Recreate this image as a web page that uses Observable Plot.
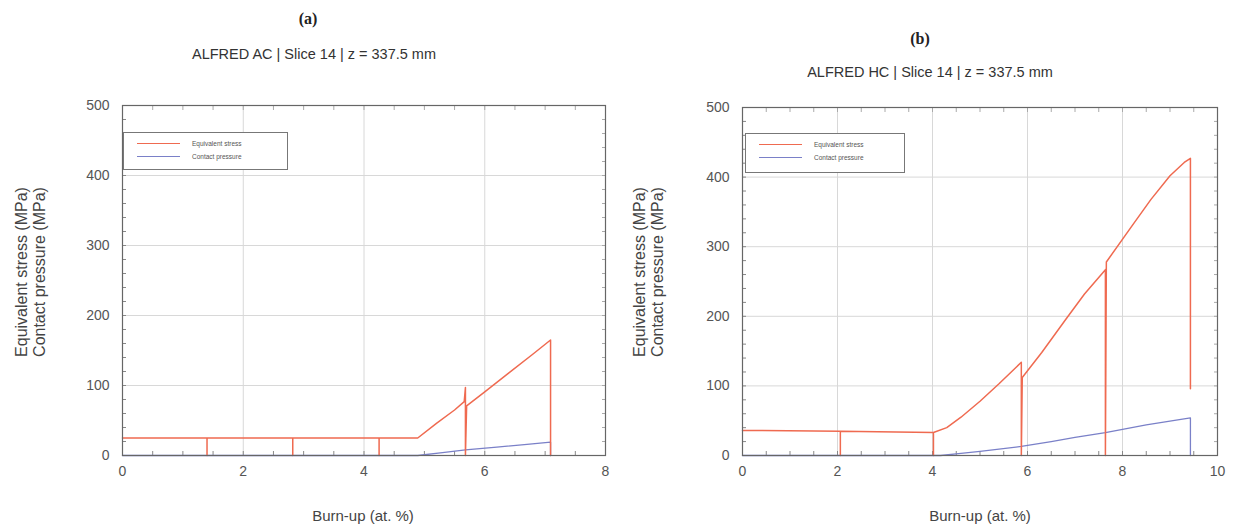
<!DOCTYPE html>
<html>
<head>
<meta charset="utf-8">
<script src="https://cdn.jsdelivr.net/npm/d3@7"></script>
<script src="https://cdn.jsdelivr.net/npm/@observablehq/plot@0.6"></script>
<style>
  html, body { margin:0; padding:0; background:#fff; }
  body { width:1239px; height:530px; position:relative; overflow:hidden; font-family:"Liberation Sans", Arial, sans-serif; color:#444; }
  .abs { position:absolute; }
  .panel-letter { font-family:"Liberation Serif", "DejaVu Serif", serif; font-weight:bold; font-size:16px; color:#222; transform:translateX(-50%); white-space:nowrap; }
  .panel-title { font-size:14.5px; color:#333; transform:translateX(-50%); white-space:nowrap; }
  .xlabel { font-size:15px; color:#444; transform:translateX(-50%); white-space:nowrap; }
  .ylabel { font-size:16px; color:#444; white-space:nowrap; transform:translate(-50%,-50%) rotate(-90deg); text-align:center; line-height:18px; }
  .legend { border:1px solid #777; background:#fff; box-sizing:border-box; }
  .legrow { position:absolute; left:0; display:flex; align-items:center; font-size:6.5px; color:#555; }
  .legrow span.sw { display:inline-block; width:43px; height:1.5px; margin-left:13px; margin-right:12px; }
</style>
</head>
<body>
<script>
// ---------- Data ----------
const seriesNames = ["Equivalent stress", "Contact pressure"];
const seriesColors = ["#ef6a50", "#7a80c8"];
const yTicks = [0, 100, 200, 300, 400, 500];

// (a) ALFRED AC
const acTitle = "ALFRED AC | Slice 14 | z = 337.5 mm";
const acXTicks = [0, 2, 4, 6, 8];
const acStressBurnup = [0, 1.40, 1.40, 1.40, 2.82, 2.82, 2.82, 4.25, 4.25, 4.25, 4.89, 5.2, 5.5, 5.66, 5.68, 5.68, 5.70, 6.0, 6.4, 6.8, 7.09, 7.09];
const acStress       = [25, 25, 0, 25, 25, 0, 25, 25, 0, 25, 25, 46, 65, 77, 97, 0, 71, 91, 118, 145, 165, 0];
const acPressureBurnup = [0, 4.89, 5.3, 5.68, 6.2, 6.7, 7.09, 7.09];
const acPressure       = [0, 0, 4, 8, 12, 16, 19, 0];

// (b) ALFRED HC
const hcTitle = "ALFRED HC | Slice 14 | z = 337.5 mm";
const hcXTicks = [0, 2, 4, 6, 8, 10];
const hcStressBurnup = [0, 2.06, 2.06, 2.06, 4.02, 4.02, 4.02, 4.3, 4.6, 5.0, 5.4, 5.87, 5.87, 5.89, 6.3, 6.8, 7.2, 7.64, 7.64, 7.66, 8.2, 8.6, 9.0, 9.3, 9.43, 9.43];
const hcStress       = [36, 35, 0, 35, 33, 0, 33, 40, 55, 78, 103, 134, 0, 112, 148, 195, 232, 267, 0, 278, 330, 368, 402, 421, 427, 96];
const hcPressureBurnup = [0, 4.17, 4.6, 5.0, 5.87, 6.5, 7.0, 7.64, 8.5, 9.43, 9.43];
const hcPressure       = [0, 0, 3, 6, 13, 20, 26, 33, 44, 54, 0];

// ---------- Helpers ----------
function rows(xs, ys) { return xs.map((x, i) => ({x, y: ys[i]})); }
function range(a, b, s) { const r = []; for (let v = a; v <= b + 1e-9; v += s) r.push(+v.toFixed(4)); return r; }

function makePanel(opts) {
  const {left, width, marginRight, marginTop, xmax, xTicks, stressX, stressY, pressX, pressY} = opts;
  const minorX = range(0, xmax, 0.5), minorY = range(0, 500, 20);
  const svg = Plot.plot({
    width, height: 440,
    marginLeft: 122, marginRight, marginTop, marginBottom: 75,
    x: {domain: [0, xmax]},
    y: {domain: [0, 500]},
    style: {fontFamily: "'Liberation Sans', Arial, sans-serif", fontSize: "14px", color: "#555", background: "transparent"},
    marks: [
      Plot.gridX(xTicks.filter(v => v > 0 && v < xmax), {stroke: "#d8d8d8", strokeOpacity: 1}),
      Plot.gridY(yTicks.filter(v => v > 0 && v < 500), {stroke: "#d8d8d8", strokeOpacity: 1}),
      Plot.axisX(minorX, {anchor: "bottom", tickSize: -4, text: null, label: null, stroke: "#888"}),
      Plot.axisX(minorX, {anchor: "top", tickSize: -4, text: null, label: null, stroke: "#aaa"}),
      Plot.axisY(minorY, {anchor: "left", tickSize: -4, text: null, label: null, stroke: "#888"}),
      Plot.axisY(minorY, {anchor: "right", tickSize: -4, text: null, label: null, stroke: "#aaa"}),
      Plot.axisX(xTicks, {tickSize: 0, tickPadding: 11, label: null, fill: "#555"}),
      Plot.axisY(yTicks, {tickSize: 0, tickPadding: 13, label: null, fill: "#555"}),
      Plot.line(rows(pressX, pressY), {x: "x", y: "y", stroke: seriesColors[1], strokeWidth: 1.3}),
      Plot.line(rows(stressX, stressY), {x: "x", y: "y", stroke: seriesColors[0], strokeWidth: 1.5}),
      Plot.frame({stroke: "#666", strokeWidth: 1.2})
    ]
  });
  svg.style.position = "absolute";
  svg.style.left = left + "px";
  svg.style.top = "90px";
  document.body.appendChild(svg);
}

function addText(cls, text, x, y) {
  const d = document.createElement("div");
  d.className = "abs " + cls;
  d.style.left = x + "px";
  d.style.top = y + "px";
  d.textContent = text;
  document.body.appendChild(d);
  return d;
}

function addYLabel(x, y) {
  const d = document.createElement("div");
  d.className = "abs ylabel";
  d.style.left = x + "px";
  d.style.top = y + "px";
  d.innerHTML = seriesNames[0] + " (MPa)<br>" + seriesNames[1] + " (MPa)";
  document.body.appendChild(d);
}

function addLegend(x, y, w, h) {
  const box = document.createElement("div");
  box.className = "abs legend";
  Object.assign(box.style, {left: x + "px", top: y + "px", width: w + "px", height: h + "px"});
  seriesNames.forEach((name, i) => {
    const r = document.createElement("div");
    r.className = "legrow";
    r.style.top = (7 + i * 13) + "px";
    const sw = document.createElement("span");
    sw.className = "sw";
    sw.style.background = seriesColors[i];
    r.appendChild(sw);
    r.appendChild(document.createTextNode(name));
    box.appendChild(r);
  });
  document.body.appendChild(box);
}

// ---------- Panel (a) ----------
makePanel({left: 0, width: 620, marginRight: 15, marginTop: 15, xmax: 8, xTicks: acXTicks,
  stressX: acStressBurnup, stressY: acStress, pressX: acPressureBurnup, pressY: acPressure});
addText("panel-letter", "(a)", 308, 10);
addText("panel-title", acTitle, 314, 46);
addText("xlabel", "Burn-up (at. %)", 363, 507);
addYLabel(31, 272);
addLegend(123, 132, 165, 38);

// ---------- Panel (b) ----------
makePanel({left: 620, width: 619, marginRight: 22, marginTop: 17, xmax: 10, xTicks: hcXTicks,
  stressX: hcStressBurnup, stressY: hcStress, pressX: hcPressureBurnup, pressY: hcPressure});
addText("panel-letter", "(b)", 920, 30);
addText("panel-title", hcTitle, 930, 64);
addText("xlabel", "Burn-up (at. %)", 980, 507);
addYLabel(649, 272);
addLegend(745, 133, 160, 40);
</script>
</body>
</html>
